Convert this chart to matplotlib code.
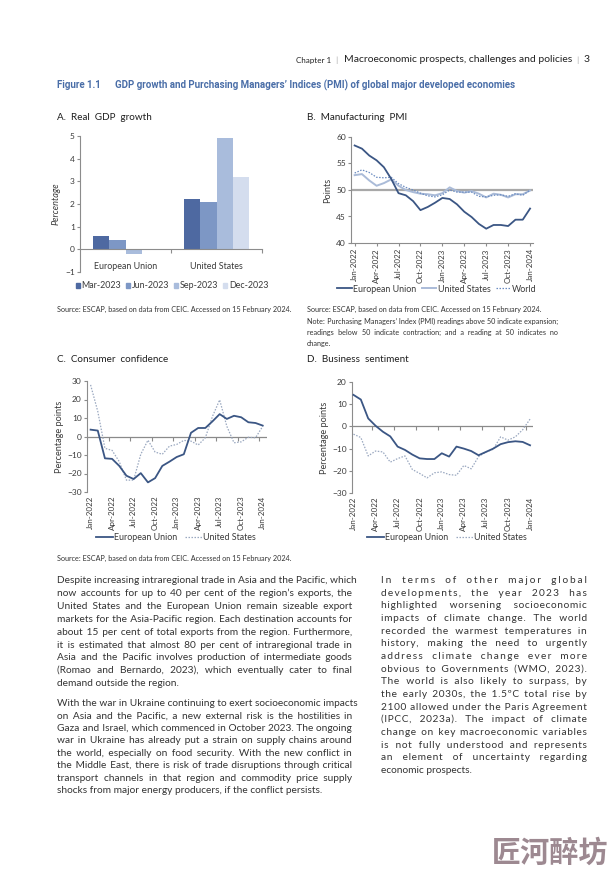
import numpy as np
import matplotlib
matplotlib.use('Agg')
import matplotlib.pyplot as plt
from matplotlib.lines import Line2D
from matplotlib.patches import Patch

W, H = 615, 874
BODY = ['Lato', 'DejaVu Sans']
TITLE = ['Liberation Sans Narrow', 'Roboto', 'DejaVu Sans']

# ---- data -------------------------------------------------------------
countries = ['European Union', 'United States']
quarters = ['Mar-2023', 'Jun-2023', 'Sep-2023', 'Dec-2023']
gdp_mar = [0.6, 2.2]
gdp_jun = [0.4, 2.1]
gdp_sep = [-0.2, 4.9]
gdp_dec = [np.nan, 3.2]

month_ticks = ['Jan-2022', 'Apr-2022', 'Jul-2022', 'Oct-2022', 'Jan-2023',
               'Apr-2023', 'Jul-2023', 'Oct-2023', 'Jan-2024']

pmi_eu = [58.4, 57.8, 56.5, 55.6, 54.3, 52.1, 49.4, 49.0, 47.9, 46.2, 46.8, 47.6, 48.5,
          48.3, 47.3, 45.9, 44.9, 43.6, 42.7, 43.4, 43.4, 43.2, 44.4, 44.4, 46.5]
pmi_us = [52.8, 53.0, 51.8, 50.8, 51.3, 52.0, 50.8, 50.0, 49.6, 49.3, 49.2, 49.0, 49.4,
          50.5, 49.8, 49.5, 49.8, 49.3, 48.6, 49.3, 49.1, 48.6, 49.2, 49.2, 49.9]
pmi_world = [53.2, 53.8, 53.3, 52.4, 52.3, 52.4, 51.2, 50.5, 50.0, 49.4, 48.9, 48.7, 49.1,
             50.0, 49.6, 49.6, 49.6, 48.8, 48.7, 49.0, 49.1, 48.8, 49.3, 49.0, 50.0]

cc_eu = [3.7, 3.2, -11.8, -12.1, -15.9, -21.2, -23.0, -19.8, -24.8, -22.5, -15.9, -13.6, -11.1,
         -9.6, 2.0, 4.6, 4.6, 8.2, 12.1, 9.5, 11.2, 10.4, 7.7, 7.3, 5.9]
cc_us = [27.9, 13.6, -6.4, -7.5, -13.6, -23.6, -23.6, -9.6, -2.0, -8.4, -9.6, -5.2, -4.3,
         -2.1, -2.5, -4.6, -0.7, 10.9, 19.8, 5.5, -3.4, -2.9, -0.4, -0.7, 5.5]

bs_eu = [14.2, 12.1, 3.6, 0.3, -2.4, -4.5, -9.1, -10.6, -12.7, -14.4, -14.7, -14.7, -12.1,
         -13.6, -9.1, -10.0, -11.1, -13.0, -11.5, -10.0, -8.0, -7.1, -6.7, -7.0, -8.5]
bs_us = [-3.5, -5.0, -13.3, -11.1, -11.5, -16.1, -14.5, -13.3, -19.4, -21.2, -23.2, -20.9, -20.5,
         -21.7, -22.0, -17.6, -19.1, -13.6, -11.5, -10.3, -4.7, -6.2, -4.7, -1.5, 3.3]

# ---- text -------------------------------------------------------------
para1 = ["Despite increasing intraregional trade in Asia and the Pacific, which",
         "now accounts for up to 40 per cent of the region\u2019s exports, the",
         "United States and the European Union remain sizeable export",
         "markets for the Asia-Pacific region. Each destination accounts for",
         "about 15 per cent of total exports from the region. Furthermore,",
         "it is estimated that almost 80 per cent of intraregional trade in",
         "Asia and the Pacific involves production of intermediate goods",
         "(Romao and Bernardo, 2023), which eventually cater to final",
         "demand outside the region."]
para2 = ["With the war in Ukraine continuing to exert socioeconomic impacts",
         "on Asia and the Pacific, a new external risk is the hostilities in",
         "Gaza and Israel, which commenced in October 2023. The ongoing",
         "war in Ukraine has already put a strain on supply chains around",
         "the world, especially on food security. With the new conflict in",
         "the Middle East, there is risk of trade disruptions through critical",
         "transport channels in that region and commodity price supply",
         "shocks from major energy producers, if the conflict persists."]
para3 = ["In terms of other major global",
         "developments, the year 2023 has",
         "highlighted worsening socioeconomic",
         "impacts of climate change. The world",
         "recorded the warmest temperatures in",
         "history, making the need to urgently",
         "address climate change ever more",
         "obvious to Governments (WMO, 2023).",
         "The world is also likely to surpass, by",
         "the early 2030s, the 1.5\u00baC total rise by",
         "2100 allowed under the Paris Agreement",
         "(IPCC, 2023a). The impact of climate",
         "change on key macroeconomic variables",
         "is not fully understood and represents",
         "an element of uncertainty regarding",
         "economic prospects."]
note = ["Note: Purchasing Managers\u2019 Index (PMI) readings above 50 indicate expansion;",
        "readings below 50 indicate contraction; and a reading at 50 indicates no",
        "change."]
source = "Source: ESCAP, based on data from CEIC. Accessed on 15 February 2024."

# ---- helpers ----------------------------------------------------------
fig = plt.figure(figsize=(6.15, 8.74), dpi=100)
fig.patch.set_facecolor('white')
renderer = fig.canvas.get_renderer()


def fx(x):
    return x / W


def fy(y):
    return 1 - y / H


def rect(x0, y0, x1, y1):
    return [x0 / W, 1 - y1 / H, (x1 - x0) / W, (y1 - y0) / H]


def text_w(s, size):
    t = fig.text(0, 0, s, fontsize=size, family=BODY)
    w = t.get_window_extent(renderer).width
    t.remove()
    return w


HAIR = '\u200a'


def justify(lines, x0, x1, y, step, size, color='#333333', track=0.0):
    # justify each line (except the last) by padding with hair spaces;
    # a share `track` of the slack goes between letters, the rest between words
    hw = (text_w('a' + HAIR * 10 + 'b', size) - text_w('ab', size)) / 10
    for i, line in enumerate(lines):
        words = line.split(' ')
        s = line
        if i < len(lines) - 1 and len(words) > 1:
            extra = (x1 - x0) - text_w(line, size)
            nl = sum(len(w) - 1 for w in words)
            kl = int(round(max(extra, 0) * track / max(nl, 1) / hw))
            words = [(HAIR * kl).join(w) for w in words]
            extra = (x1 - x0) - text_w(' '.join(words), size)
            k = max(int(round(extra / hw)), 0)
            n = len(words) - 1
            pads = [k // n + (1 if j < k % n else 0) for j in range(n)]
            s = words[0]
            for p, w in zip(pads, words[1:]):
                s += ' ' + HAIR * p + w
        fig.text(fx(x0), fy(y + i * step), s, fontsize=size, color=color,
                 family=BODY, va='baseline', ha='left')


TICK_C = '#3a3a3a'
AX_C = '#8c8c8c'
EU_C = '#3b5684'
US_C = '#aabbd8'
WORLD_C = '#6a8bc0'
US_DOT = '#9aa8c0'
TS = 6.0


def style(ax):
    for s in ['top', 'right']:
        ax.spines[s].set_visible(False)
    for s in ['left', 'bottom']:
        ax.spines[s].set_color(AX_C)
        ax.spines[s].set_linewidth(0.8)
    ax.tick_params(colors=AX_C, labelcolor=TICK_C, labelsize=TS, length=2.2,
                   width=0.8, pad=1.5)
    for lab in ax.get_xticklabels() + ax.get_yticklabels():
        lab.set_family(BODY)


# ---- header -----------------------------------------------------------
pieces = [('3', 7.5, '#222222'), ('   |   ', 5, '#999999'),
          ('Macroeconomic prospects, challenges and policies', 7.5, '#222222'),
          ('   |   ', 5, '#999999'), ('Chapter 1', 5.8, '#222222')]
xr = 590
for txt, sz, col in pieces:
    t = fig.text(fx(xr), fy(60), txt, fontsize=sz, color=col, family=BODY,
                 ha='right', va='center')
    xr -= t.get_window_extent(renderer).width

fig.text(fx(57), fy(85), 'Figure 1.1', fontsize=7.0, color='#4a6ea8',
         family=TITLE, weight='bold', va='center')
fig.text(fx(115), fy(85),
         'GDP growth and Purchasing Managers\u2019 Indices (PMI) of global major developed economies',
         fontsize=7.0, color='#4a6ea8', family=TITLE, weight='bold', va='center')

for x, y, t in [(57, 117, 'A.  Real  GDP  growth'), (307, 117, 'B.  Manufacturing  PMI'),
                (57, 360, 'C.  Consumer  confidence'), (307, 360, 'D.  Business  sentiment')]:
    fig.text(fx(x), fy(y), t, fontsize=7.1, color='#1f1f1f', family=BODY, va='center')

# ---- A: GDP bars ------------------------------------------------------
axA = fig.add_axes(rect(80, 136, 262, 272))
style(axA)
bw = 0.18
xc = np.arange(len(countries))
bar_cols = ['#4e69a1', '#7d97c5', '#a9bcdc', '#d4ddee']
for k, (vals, col, lab) in enumerate(zip([gdp_mar, gdp_jun, gdp_sep, gdp_dec],
                                         bar_cols, quarters)):
    axA.bar(xc + (k - 1.5) * bw, vals, bw, color=col, label=lab, zorder=2)
axA.set_xlim(-0.5, 1.5)
axA.set_ylim(-1, 5)
axA.set_yticks(range(-1, 6))
axA.spines['bottom'].set_position(('data', 0))
axA.set_xticks(xc)
axA.set_xticklabels(countries, family=BODY, fontsize=6.4)
axA.set_xticks([0.5, 1.5], minor=True)
axA.tick_params(axis='x', which='major', length=0, pad=9)
axA.tick_params(axis='x', which='minor', length=3, color=AX_C, width=0.8)
axA.set_ylabel('Percentage', fontsize=6.6, color=TICK_C, family=BODY,
               style='italic', labelpad=3)
hA = [Patch(color=c, label=q) for c, q in zip(bar_cols, quarters)]
fig.legend(handles=hA, loc='center', bbox_to_anchor=(fx(172), fy(286)), ncol=4,
           frameon=False, handlelength=0.5, handleheight=0.5, handletextpad=0.2,
           columnspacing=0.5, prop={'family': BODY, 'size': 6.4}, labelcolor=TICK_C)

# ---- B: PMI -----------------------------------------------------------
x = np.arange(len(pmi_eu))
tick_pos = np.arange(0, len(x), 3)
axB = fig.add_axes(rect(351, 137, 533, 243))
style(axB)
axB.axhline(50, color='#a8a8a8', lw=1.6, zorder=1)
axB.plot(x, pmi_us, color=US_C, lw=1.4, zorder=2)
axB.plot(x, pmi_world, color=WORLD_C, lw=0.9, ls=(0, (1.2, 1.2)), zorder=3)
axB.plot(x, pmi_eu, color=EU_C, lw=1.3, zorder=4)
axB.set_xlim(-0.5, 24.4)
axB.set_ylim(40, 60)
axB.set_yticks(range(40, 61, 5))
axB.set_xticks(tick_pos)
axB.set_xticklabels(month_ticks, rotation=90, family=BODY, fontsize=5.8)
axB.set_ylabel('Points', fontsize=6.6, color=TICK_C, family=BODY, labelpad=3)
hB = [Line2D([], [], color=EU_C, lw=1.3, label='European Union'),
      Line2D([], [], color=US_C, lw=1.4, label='United States'),
      Line2D([], [], color=WORLD_C, lw=0.9, ls=(0, (1.2, 1.2)), label='World')]
fig.legend(handles=hB, loc='center', bbox_to_anchor=(fx(437), fy(289)), ncol=3,
           frameon=False, handlelength=1.6, handletextpad=0.2, columnspacing=0.6,
           prop={'family': BODY, 'size': 6.4}, labelcolor=TICK_C)


# ---- C & D: sentiment lines ------------------------------------------
def sentiment(ax, eu, us, ylo, yhi, xlim):
    style(ax)
    ax.spines['bottom'].set_visible(False)
    ax.axhline(0, color='#8a8a8a', lw=0.9, zorder=1)
    marks = np.arange(-0.5, len(eu), 3)
    ax.plot(marks, np.zeros_like(marks), ls='none', marker=3, ms=3,
            mew=0.8, color='#8a8a8a', zorder=1)
    ax.plot(x, us, color=US_DOT, lw=0.9, ls=(0, (1.2, 1.2)), zorder=2)
    ax.plot(x, eu, color=EU_C, lw=1.3, zorder=3)
    ax.set_xlim(*xlim)
    ax.set_ylim(ylo, yhi)
    ax.set_yticks(range(ylo, yhi + 1, 10))
    ax.set_xticks(tick_pos)
    ax.set_xticklabels(month_ticks, rotation=90, family=BODY, fontsize=5.8)
    ax.tick_params(axis='x', length=0, pad=2.5)
    ax.set_ylabel('Percentage points', fontsize=6.6, color=TICK_C, family=BODY,
                  labelpad=2)


axC = fig.add_axes(rect(87, 381, 267, 492))
sentiment(axC, cc_eu, cc_us, -30, 30, (-0.5, 24.6))
axD = fig.add_axes(rect(352, 382, 533, 493))
sentiment(axD, bs_eu, bs_us, -30, 20, (-0.2, 24.4))

hC = [Line2D([], [], color=EU_C, lw=1.3, label='European Union'),
      Line2D([], [], color=US_DOT, lw=0.9, ls=(0, (1.2, 1.2)), label='United States')]
for cx in (176, 447):
    fig.legend(handles=hC, loc='center', bbox_to_anchor=(fx(cx), fy(538)), ncol=2,
               frameon=False, handlelength=1.9, handletextpad=0.2, columnspacing=0.8,
               prop={'family': BODY, 'size': 6.4}, labelcolor=TICK_C)

# ---- sources / notes --------------------------------------------------
fig.text(fx(57), fy(312), source, fontsize=5.2, color='#333333', family=BODY, va='baseline')
fig.text(fx(307), fy(312), source, fontsize=5.2, color='#333333', family=BODY, va='baseline')
justify(note, 307, 558, 324, 10.8, 5.2)
fig.text(fx(57), fy(561), source, fontsize=5.2, color='#333333', family=BODY, va='baseline')

# ---- body text --------------------------------------------------------
justify(para1, 57, 352, 583, 12.9, 7.3, track=0.35)
justify(para2, 57, 352, 706, 12.45, 7.3, track=0.35)
justify(para3, 381, 587, 583, 12.67, 7.3, track=0.45)

# watermark
fig.text(fx(550), fy(853), '\u5320\u6cb3\u9189\u574a', family=['Noto Sans CJK SC', 'DejaVu Sans'],
         weight='bold', fontsize=21, color='#9d8991', ha='center', va='center')

fig.savefig('out.png', dpi=100, facecolor='white')
